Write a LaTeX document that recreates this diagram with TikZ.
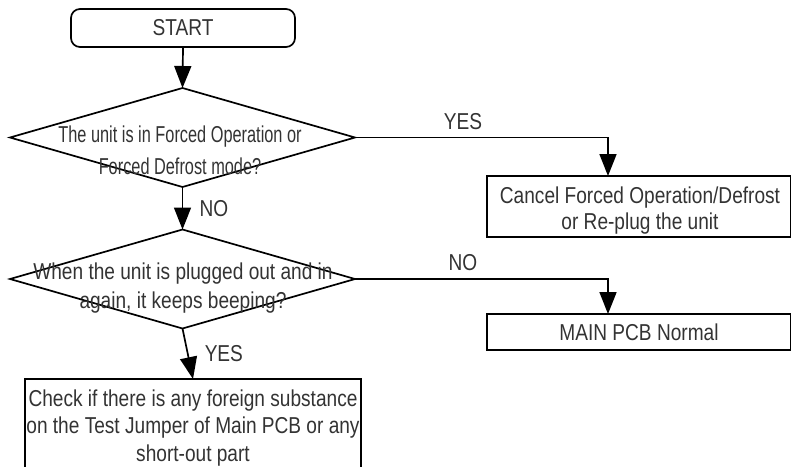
\documentclass[tikz,border=0pt]{standalone}
\usepackage{fontspec}
\setmainfont{Liberation Sans}[FakeStretch=0.83]
\newfontfamily\narrowfont{Liberation Sans}[FakeStretch=0.71]
\usetikzlibrary{shapes.geometric,arrows.meta}
\definecolor{txtgray}{HTML}{333333}
\begin{document}
\begin{tikzpicture}[x=1pt,y=-1pt,
  line width=1.7pt,
  every node/.style={inner sep=0pt,outer sep=0pt},
  dia/.style={draw,diamond,minimum width=345pt,minimum height=99pt},
  txt/.style={text=txtgray,align=center,font=\fontsize{23}{#1}\selectfont},
  arr/.style={-{Triangle[length=22pt,width=17pt]}},
  lbl/.style={text=txtgray,font=\fontsize{23}{26}\selectfont}
]
\useasboundingbox (0,0) rectangle (791,466);
% start
\node[draw,rounded corners=9pt,minimum width=224pt,minimum height=38pt] (start) at (183,28) {};
\node[txt=26] (starttxt) at (start.center) {START};
% decision 1
\node[dia] (d1) at (182.5,137.5) {};
\node[txt=32,font=\fontsize{23}{32}\narrowfont] (d1t) at (180,150) {The unit is in Forced Operation or\\Forced Defrost mode?};
% decision 2
\node[dia] (d2) at (182.5,279) {};
\node[txt=29] (d2t) at (183,288) {When the unit is plugged out and in\\again, it keeps beeping?};
% right boxes
\node[draw,minimum width=304pt,minimum height=61pt] (cancel) at (639,206.5) {};
\node[txt=26] (cancelt) at (640,210.5) {Cancel Forced Operation/Defrost\\or Re-plug the unit};
\node[draw,minimum width=304pt,minimum height=36pt] (normal) at (639,332) {};
\node[txt=26] (normalt) at (normal.center) {MAIN PCB Normal};
% bottom box
\node[draw,minimum width=336pt,minimum height=110pt] (check) at (193,434) {};
\node[txt=27.5] (checkt) at (193,428) {Check if there is any foreign substance\\on the Test Jumper of Main PCB or any\\short-out part};
% connectors
\draw[arr] (start.south) -- (d1.north);
\draw[arr] (d1.south) -- node[lbl,anchor=west,xshift=17pt] {NO} (d2.north);
\draw[arr] (d2.south) -- node[lbl,anchor=west,xshift=17pt] {YES} (check.north);
\draw[arr] (d1.east) -| node[lbl,pos=0.5,anchor=south,yshift=8pt,xshift=-145pt] {YES} (cancel.north -| 608,0);
\draw[arr] (d2.east) -| node[lbl,pos=0.5,anchor=south,yshift=8pt,xshift=-145pt] {NO} (normal.north -| 608,0);
\end{tikzpicture}
\end{document}
